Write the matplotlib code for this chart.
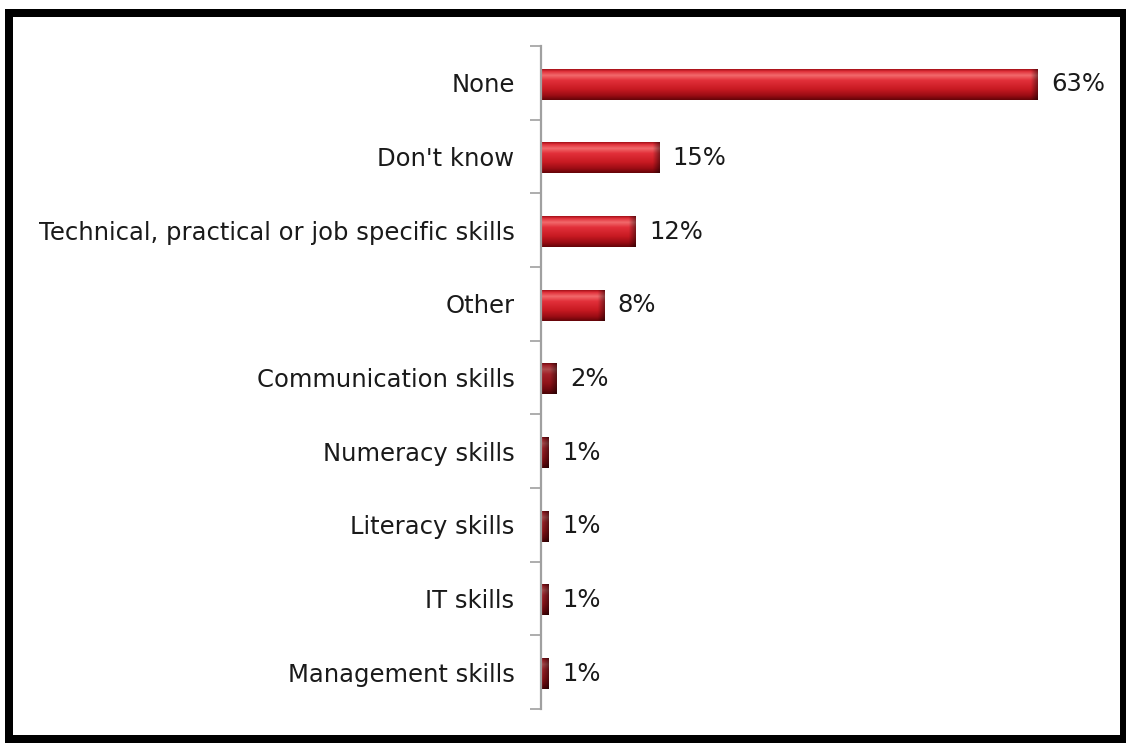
import numpy as np
import matplotlib
matplotlib.use("Agg")
import matplotlib.pyplot as plt
from matplotlib.colors import to_rgb
from matplotlib.patches import Rectangle

# Survey responses, top to bottom
categories = [
    "None",
    "Don't know",
    "Technical, practical or job specific skills",
    "Other",
    "Communication skills",
    "Numeracy skills",
    "Literacy skills",
    "IT skills",
    "Management skills",
]
percentages = [63, 15, 12, 8, 2, 1, 1, 1, 1]

W, H = 1126, 743
fig = plt.figure(figsize=(W / 100, H / 100), dpi=100)
fig.patch.set_facecolor("white")

# Thick black frame around the chart area (pixel coordinates)
def px_rect(x0, y0_top, x1, y1_top, color):
    fig.patches.append(Rectangle((x0 / W, 1 - y1_top / H), (x1 - x0) / W, (y1_top - y0_top) / H,
                                 transform=fig.transFigure, facecolor=color, edgecolor="none",
                                 zorder=10))

px_rect(5, 9, 13, 743, "#000000")
px_rect(5, 9, 1126, 17, "#000000")
px_rect(1120, 9, 1126, 743, "#000000")
px_rect(5, 735, 1126, 743, "#000000")

ax_left, ax_right, ax_top, ax_bottom = 541, 1110, 46, 709
ax = fig.add_axes([ax_left / W, 1 - ax_bottom / H, (ax_right - ax_left) / W, (ax_bottom - ax_top) / H])
px_per_unit = (1038 - 541) / 63.0
xmax = (ax_right - ax_left) / px_per_unit

# Vertical colour profile of a glossy cylinder-like bar (top -> bottom)
stops = [(0.00, "#a31018"), (0.07, "#e0303a"), (0.20, "#f26a6c"), (0.36, "#e2303a"),
         (0.65, "#c81a22"), (0.86, "#9a0c14"), (1.00, "#640408")]
ny = 80
t = np.linspace(0, 1, ny)
profile = np.stack([np.interp(t, [s for s, _ in stops], [to_rgb(c)[k] for _, c in stops])
                    for k in range(3)], axis=1)

bar_h = 0.42
bar_shift = 0.02
bevel = 0.9
label_font = dict(fontsize=17.5, color="#1a1a1a", family="DejaVu Sans")
for i, v in enumerate(percentages):
    nx = max(int(v * 25), 30)
    xs = np.linspace(0, v, nx)
    b = min(bevel, v * 0.9)
    shade = np.where(xs > v - b, 1 - 0.45 * np.clip((xs - (v - b)) / b, 0, 1), 1.0)
    if v <= 2:
        shade = shade * 0.72
    img = profile[:, None, :] * shade[None, :, None]
    yc = i + bar_shift
    ax.imshow(img, extent=(0, v, yc + bar_h / 2, yc - bar_h / 2), origin="upper",
              aspect="auto", interpolation="bilinear", zorder=2)
    ax.text(v + 1.7, yc, f"{v}%", va="center", ha="left", **label_font)

ax.set_xlim(0, xmax)
ax.set_ylim(len(categories) - 0.5, -0.5)

ax.set_yticks(range(len(categories)))
ax.set_yticklabels(categories, **label_font)
ax.tick_params(axis="y", which="major", length=0, pad=19)
ax.set_yticks(np.arange(-0.5, len(categories), 1.0), minor=True)
ax.tick_params(axis="y", which="minor", length=8, width=1.2, color="#a0a0a0", direction="out")
ax.set_xticks([])

for side in ("top", "right", "bottom"):
    ax.spines[side].set_visible(False)
ax.spines["left"].set_color("#a0a0a0")
ax.spines["left"].set_linewidth(1.6)
ax.set_facecolor("none")

fig.savefig("out.png", dpi=100, facecolor="white")
